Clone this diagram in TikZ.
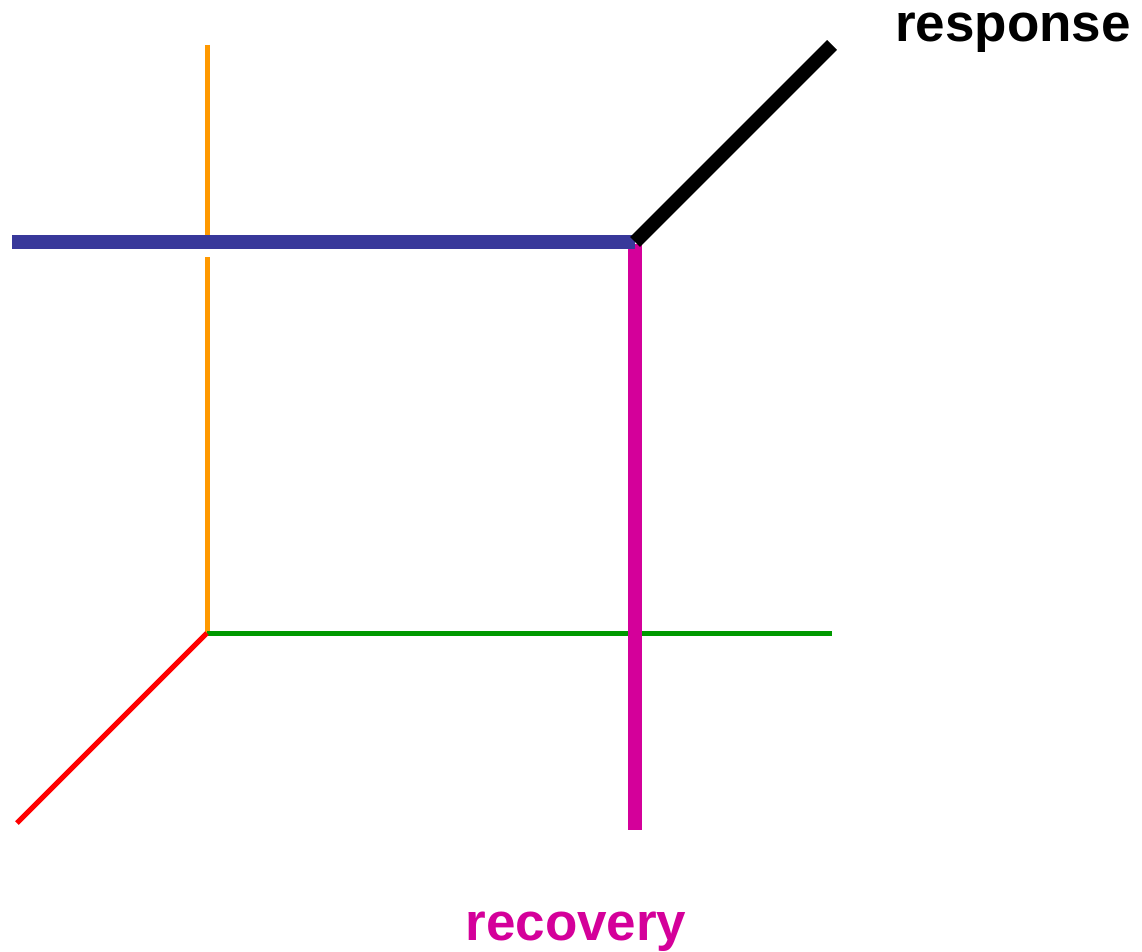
\documentclass[tikz,border=0pt]{standalone}
\usepackage{fontspec}
\setmainfont{Liberation Sans}
\definecolor{cblue}{HTML}{38389A}
\definecolor{corange}{HTML}{FF9900}
\definecolor{cgreen}{HTML}{009900}
\definecolor{cred}{HTML}{FF0000}
\definecolor{cpink}{HTML}{D4009A}
\begin{document}
\begin{tikzpicture}[x=1pt,y=-1pt,
  thin axis/.style={line width=5pt,line cap=butt},
  thick axis/.style={line width=14pt,line cap=butt},
  label/.style={font=\fontsize{53}{60}\selectfont\bfseries,anchor=base,inner sep=0pt}]
\useasboundingbox[fill=white] (0,0) rectangle (1142,952);
% coordinates
\coordinate (O) at (207,633);
\coordinate (OrTop) at (207,45);
\coordinate (OrGapTop) at (207,235);
\coordinate (OrGapBot) at (207,257);
\coordinate (GrEnd) at (832,633);
\coordinate (RedEnd) at (17,823);
\coordinate (C) at (635,242);
\coordinate (BlueStart) at (12,242);
\coordinate (PinkEnd) at (635,830);
\coordinate (BlackEnd) at (832,45);
% thin axes
\draw[thin axis,corange] (OrTop) -- (OrGapTop);
\draw[thin axis,corange] (OrGapBot) -- (O);
\draw[thin axis,cgreen] (O) -- (GrEnd);
\draw[thin axis,cred] (O) -- (RedEnd);
% thick axes
\draw[thick axis,cpink] ([yshift=-2pt]C) -- (PinkEnd);
\draw[thick axis,cblue] (BlueStart) -- (C);
\draw[thick axis,black] (C) -- (BlackEnd);
% labels
\node[label,text=black] (resp) at (1013,42) {response};
\node[label,text=cpink] (rec) at (576,940) {recovery};
\end{tikzpicture}
\end{document}
